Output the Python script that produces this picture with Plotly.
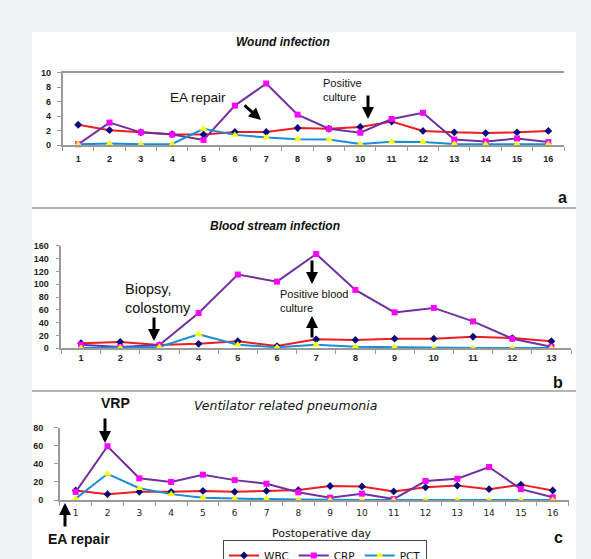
import plotly.graph_objects as go

# ---------------- data ----------------
days_a = ["1", "2", "3", "4", "5", "6", "7", "8", "9", "10", "11", "12", "13", "14", "15", "16"]
wbc_a = [2.8, 2.05, 1.75, 1.5, 1.45, 1.8, 1.8, 2.35, 2.25, 2.5, 3.25, 1.95, 1.75, 1.65, 1.75, 1.95]
crp_a = [0.1, 3.1, 1.75, 1.45, 0.7, 5.45, 8.5, 4.2, 2.25, 1.7, 3.6, 4.45, 0.75, 0.5, 0.9, 0.4]
pct_a = [0.1, 0.2, 0.1, 0.15, 2.25, 1.4, 1.05, 0.8, 0.75, 0.15, 0.45, 0.4, 0.15, 0.1, 0.15, 0.1]

days_b = ["1", "2", "3", "4", "5", "6", "7", "8", "9", "10", "11", "12", "13"]
wbc_b = [8, 10, 5, 7, 11, 3.5, 14, 13, 15, 15, 18, 16, 11]
crp_b = [5.5, 2, 5, 55, 115, 104, 147, 91, 56, 63, 42, 15, 2.5]
pct_b = [0.5, 1, 2, 22, 5.5, 1.5, 5.5, 2.5, 1.5, 0.5, 0.5, 0.5, 0.5]

days_c = ["1", "2", "3", "4", "5", "6", "7", "8", "9", "10", "11", "12", "13", "14", "15", "16"]
wbc_c = [10.5, 6.5, 9, 9, 10, 9, 10, 11, 15.5, 15, 9.5, 14, 16, 12, 17, 10.5]
crp_c = [9, 59.5, 24, 20, 28, 22, 18, 8.5, 2.5, 7, 1, 21, 23.5, 36.5, 12, 3]
pct_c = [1.5, 29, 13, 6.5, 2.5, 1.5, 1, 0.5, 0, 0, 0, 0, 0, 0, 0, 0]

yticks_a = [0, 2, 4, 6, 8, 10]
yticks_b = [0, 20, 40, 60, 80, 100, 120, 140, 160]
yticks_c = [0, 20, 40, 60, 80]

# ---------------- layout helpers ----------------
W, H = 591, 559


def X(px):
    return px / W


def Y(py):
    return 1 - py / H


WBC_LINE, WBC_MK = "#ee1d23", "#0a0a78"
CRP_LINE, CRP_MK = "#7030a0", "#ff00ff"
PCT_LINE, PCT_MK = "#1b8dd4", "#ffff00"

fig = go.Figure()

panels = [
    ("x", "y", days_a, wbc_a, crp_a, pct_a, False),
    ("x2", "y2", days_b, wbc_b, crp_b, pct_b, False),
    ("x3", "y3", days_c, wbc_c, crp_c, pct_c, True),
]

for xa, ya, days, wbc, crp, pct, show in panels:
    fig.add_trace(go.Scatter(
        x=days, y=wbc, name="WBC", xaxis=xa, yaxis=ya, mode="lines+markers",
        line=dict(color=WBC_LINE, width=2),
        marker=dict(symbol="diamond", size=6, color=WBC_MK, line=dict(width=0)),
        cliponaxis=False, showlegend=show))
    fig.add_trace(go.Scatter(
        x=days, y=crp, name="CRP", xaxis=xa, yaxis=ya, mode="lines+markers",
        line=dict(color=CRP_LINE, width=2),
        marker=dict(symbol="square", size=6, color=CRP_MK, line=dict(width=0)),
        cliponaxis=False, showlegend=show))
    fig.add_trace(go.Scatter(
        x=days, y=pct, name="PCT", xaxis=xa, yaxis=ya, mode="lines+markers",
        line=dict(color=PCT_LINE, width=2),
        marker=dict(symbol="triangle-up", size=7, color=PCT_MK, line=dict(width=0)),
        cliponaxis=False, showlegend=show))

AX = "#9a9a9a"
tickfont_ab = dict(family="Liberation Sans", size=9, color="#222222", weight="bold")
tickfont_c = dict(family="DejaVu Sans", size=9, color="#222222")


def xaxis(domain, n, mirror, font, standoff, anchor):
    return dict(domain=domain, type="category", range=[-0.5, n - 0.5], showline=True,
                linecolor=AX, linewidth=1.5, mirror=mirror, ticks="outside", ticklen=4,
                tickcolor=AX, tickson="boundaries", showgrid=False, zeroline=False,
                tickfont=font, ticklabelstandoff=standoff, fixedrange=True, anchor=anchor)


def yaxis(domain, rng, vals, anchor, standoff):
    return dict(domain=domain, range=rng, tickvals=vals, showline=True, linecolor=AX,
                linewidth=1.5, ticks="outside", ticklen=4, tickcolor=AX, showgrid=False,
                zeroline=False, tickfont=tickfont_ab, anchor=anchor,
                ticklabelstandoff=standoff, fixedrange=True)


fig.update_layout(
    width=W, height=H,
    margin=dict(l=0, r=0, t=0, b=0, autoexpand=False),
    paper_bgcolor="#eff0f2", plot_bgcolor="rgba(0,0,0,0)",
    xaxis=xaxis([X(62.5), X(564)], 16, True, tickfont_ab, 4, "y"),
    yaxis=yaxis([Y(145), Y(72.7)], [0, 10], yticks_a, "x", 4),
    xaxis2=xaxis([X(61.4), X(571)], 13, False, tickfont_ab, 0, "y2"),
    yaxis2=yaxis([Y(348.3), Y(245.7)], [0, 160], yticks_b, "x2", 5),
    xaxis3=xaxis([X(59.8), X(568.6)], 16, False, tickfont_c, 3, "y3"),
    yaxis3=yaxis([Y(500), Y(427.7)], [0, 80], yticks_c, "x3", 9),
    legend=dict(orientation="h", x=X(223), y=Y(540), xanchor="left", yanchor="top",
                bgcolor="white", bordercolor="#444444", borderwidth=1,
                font=dict(family="DejaVu Sans", size=10.5, color="#111111"),
                itemwidth=30, tracegroupgap=0),
    showlegend=True,
)

# white panel and separators
fig.add_shape(type="rect", xref="paper", yref="paper", x0=X(32), x1=X(576), y0=Y(559), y1=Y(32),
              fillcolor="white", line=dict(width=0), layer="below")
for sy in (208, 391):
    fig.add_shape(type="line", xref="paper", yref="paper", x0=X(32), x1=X(576), y0=Y(sy), y1=Y(sy),
                  line=dict(color="#b4b4b4", width=2), layer="below")

F = "Liberation Sans"


def txt(s, x, y, size, bold=False, italic=False, xanchor="center", align="center", family=F):
    fig.add_annotation(text=s, x=X(x), y=Y(y), xref="paper", yref="paper", showarrow=False,
                       xanchor=xanchor, yanchor="middle", align=align,
                       font=dict(family=family, size=size, color="#111111",
                                 weight="bold" if bold else "normal",
                                 style="italic" if italic else "normal"))


def arrow(tx, ty, hx, hy):
    fig.add_annotation(text="", x=X(hx), y=Y(hy), xref="paper", yref="paper", showarrow=True,
                       ax=tx - hx, ay=ty - hy, arrowhead=2, arrowsize=0.8, arrowwidth=3,
                       arrowcolor="black", standoff=0, startstandoff=0)


# panel a
txt("Wound infection", 283, 42, 12, bold=True, italic=True)
txt("EA repair", 198, 97, 13.5)
arrow(243, 104, 261, 120)
txt("Positive<br>culture", 321, 90, 11, xanchor="left", align="left")
arrow(368, 94, 368, 119)
txt("a", 562, 197, 16, bold=True)

# panel b
txt("Blood stream infection", 275, 226, 12, bold=True, italic=True)
txt("Biopsy,<br>colostomy", 123, 298, 14.5, xanchor="left", align="left")
arrow(154, 316, 154, 341)
txt("Positive blood<br>culture", 278, 301, 11, xanchor="left", align="left")
arrow(312, 259, 312, 284)
arrow(312, 339, 312, 316)
txt("b", 558, 382, 16, bold=True)

# panel c
txt("Ventilator related pneumonia", 285, 405, 12.5, italic=True, family="DejaVu Sans")
txt("VRP", 115, 403, 14, bold=True)
arrow(105, 417, 105, 443)
txt("Postoperative day", 322, 533, 11, family="DejaVu Sans")
txt("EA repair", 79, 539, 14, bold=True)
arrow(65, 528, 65, 503)
txt("c", 558, 537, 16, bold=True)

fig.write_html("out.html", config={"displayModeBar": False},
               post_script="document.body.style.margin='0';document.body.style.overflow='hidden';")
